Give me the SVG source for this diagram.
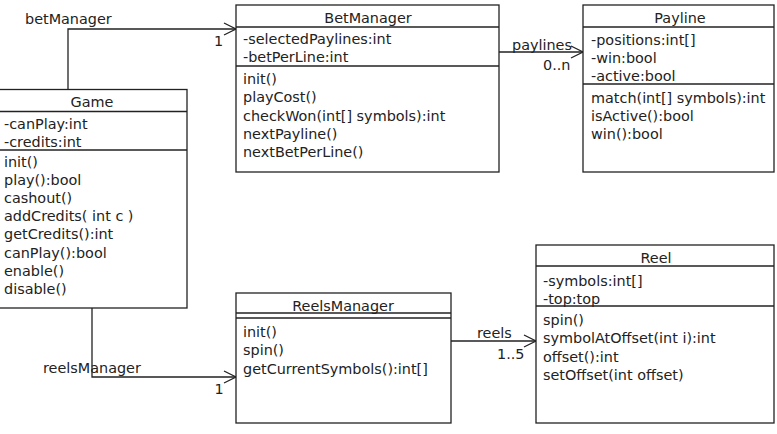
<svg xmlns="http://www.w3.org/2000/svg" width="777" height="434" viewBox="0 0 777 434">
<style>
.box{fill:#fff;stroke:#222;stroke-width:1.3}
.sep{stroke:#222;stroke-width:1.3}
.conn{fill:none;stroke:#222;stroke-width:1.3}
text{font-family:"DejaVu Sans",sans-serif;font-size:14.4px;fill:#222}
.c{text-anchor:middle}
</style>
<defs>
<marker id="open" markerUnits="userSpaceOnUse" markerWidth="16" markerHeight="16" refX="13" refY="7" orient="auto" viewBox="0 0 16 14">
<polyline points="1,1 13,7 1,13" fill="none" stroke="#222" stroke-width="1.3"/>
</marker>
</defs>
<rect width="777" height="434" fill="#fff"/>
<g id="connectors">
<polyline class="conn" points="68,89 68,29 236,29" marker-end="url(#open)"/>
<text x="25" y="24">betManager</text>
<text x="218.5" y="46" class="c">1</text>
<polyline class="conn" points="499,52 583,52" marker-end="url(#open)"/>
<text x="512" y="50">paylines</text>
<text x="543" y="70">0..n</text>
<polyline class="conn" points="92,308 92,377 236,377" marker-end="url(#open)"/>
<text x="43" y="373">reelsManager</text>
<text x="219" y="394" class="c">1</text>
<polyline class="conn" points="451,341 536,341" marker-end="url(#open)"/>
<text x="477" y="338">reels</text>
<text x="497" y="359">1..5</text>
</g>
<g id="Game">
<rect class="box" x="-2" y="89.5" width="189" height="218.5"/>
<line class="sep" x1="-2" y1="111.5" x2="187" y2="111.5"/>
<line class="sep" x1="-2" y1="150" x2="187" y2="150"/>
<text x="92" y="106.5" class="c">Game</text>
<text x="4" y="128.5">-canPlay:int</text>
<text x="4" y="146.5">-credits:int</text>
<text x="4" y="166.5">init()</text>
<text x="4" y="184.7">play():bool</text>
<text x="4" y="202.9">cashout()</text>
<text x="4" y="221.1">addCredits( int c )</text>
<text x="4" y="239.3">getCredits():int</text>
<text x="4" y="257.5">canPlay():bool</text>
<text x="4" y="275.7">enable()</text>
<text x="4" y="293.9">disable()</text>
</g>
<g id="BetManager">
<rect class="box" x="236" y="5" width="263" height="167"/>
<line class="sep" x1="236" y1="27" x2="499" y2="27"/>
<line class="sep" x1="236" y1="66" x2="499" y2="66"/>
<text x="368" y="23" class="c">BetManager</text>
<text x="243" y="44">-selectedPaylines:int</text>
<text x="243" y="62.3">-betPerLine:int</text>
<text x="243" y="84">init()</text>
<text x="243" y="102.25">playCost()</text>
<text x="243" y="120.5">checkWon(int[] symbols):int</text>
<text x="243" y="138.75">nextPayline()</text>
<text x="243" y="157">nextBetPerLine()</text>
</g>
<g id="Payline">
<rect class="box" x="583" y="5" width="191" height="167"/>
<line class="sep" x1="583" y1="27" x2="774" y2="27"/>
<line class="sep" x1="583" y1="84" x2="774" y2="84"/>
<text x="680" y="23" class="c">Payline</text>
<text x="591" y="44.5">-positions:int[]</text>
<text x="591" y="62.5">-win:bool</text>
<text x="591" y="80.5">-active:bool</text>
<text x="591" y="102.5">match(int[] symbols):int</text>
<text x="591" y="120.75">isActive():bool</text>
<text x="591" y="139">win():bool</text>
</g>
<g id="ReelsManager">
<rect class="box" x="236" y="293" width="215" height="130"/>
<line class="sep" x1="236" y1="313" x2="451" y2="313"/>
<line class="sep" x1="236" y1="318" x2="451" y2="318"/>
<text x="343" y="311" class="c">ReelsManager</text>
<text x="243" y="337">init()</text>
<text x="243" y="355.25">spin()</text>
<text x="243" y="373.5">getCurrentSymbols():int[]</text>
</g>
<g id="Reel">
<rect class="box" x="536" y="245" width="238" height="178"/>
<line class="sep" x1="536" y1="266" x2="774" y2="266"/>
<line class="sep" x1="536" y1="306" x2="774" y2="306"/>
<text x="656" y="263" class="c">Reel</text>
<text x="543" y="286">-symbols:int[]</text>
<text x="543" y="304.25">-top:top</text>
<text x="543" y="325">spin()</text>
<text x="543" y="343.25">symbolAtOffset(int i):int</text>
<text x="543" y="361.5">offset():int</text>
<text x="543" y="379.75">setOffset(int offset)</text>
</g>
</svg>
